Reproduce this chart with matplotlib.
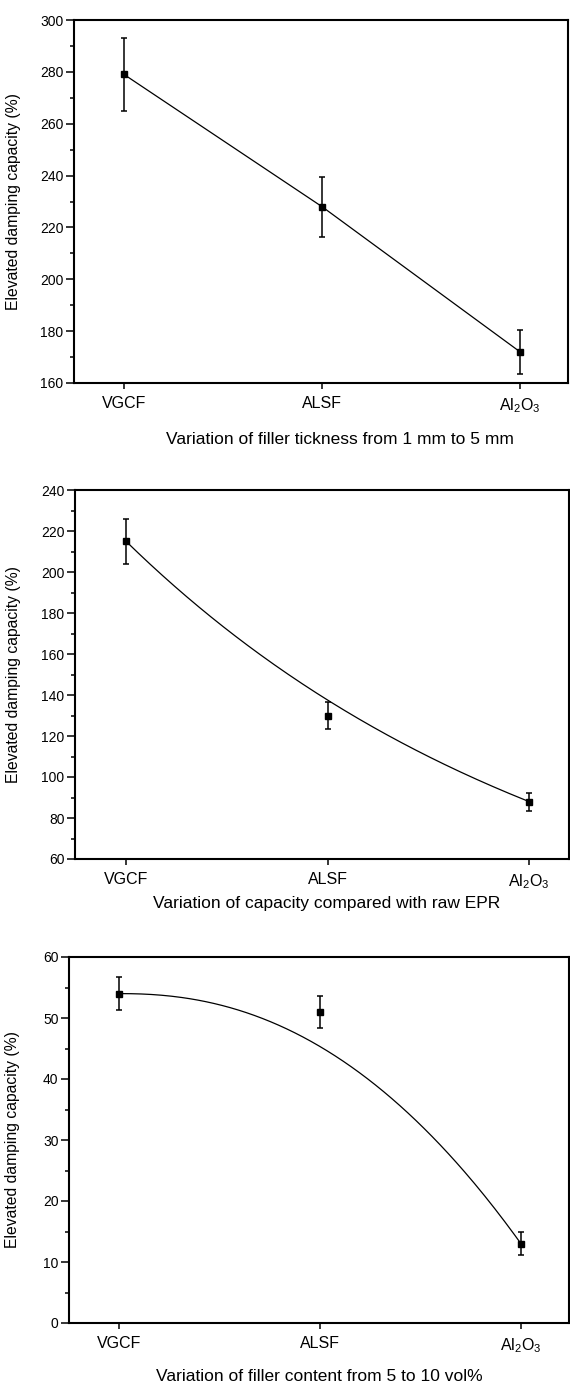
import numpy as np
import matplotlib
matplotlib.use('Agg')
import matplotlib.pyplot as plt
from matplotlib.ticker import MultipleLocator

plt.rcParams['font.family'] = ['Liberation Sans', 'DejaVu Sans']
plt.rcParams['mathtext.default'] = 'regular'

# data
fillers = ['VGCF', 'ALSF', 'Al$_2$O$_3$']

thick_val = [279, 228, 172]      # filler thickness 1 mm -> 5 mm
thick_err = [14, 11.5, 8.5]

raw_val = [215, 130, 88]         # compared with raw EPR
raw_err = [11, 6.5, 4.4]

content_val = [54, 51, 13]       # filler content 5 -> 10 vol%
content_err = [2.7, 2.6, 1.9]
content_fit_pow = 2.24           # exponent of the drawn trend curve

ylab = 'Elevated damping capacity (%)'

fig = plt.figure(figsize=(5.7, 13.86), dpi=100)

# axes rectangles in figure fraction (left, bottom, width, height)
rects = [
    [74/570, 1-383/1386, 494/570, 363/1386],
    [75/570, 1-859/1386, 494/570, 369/1386],
    [69/570, 1-1323/1386, 500/570, 366/1386],
]


def style_axis(ax, ylim, major, minor, xlim, xlab, xlab_pos, ylab_x):
    ax.set_xlim(xlim)
    ax.set_ylim(ylim)
    ax.yaxis.set_major_locator(MultipleLocator(major))
    ax.yaxis.set_minor_locator(MultipleLocator(minor))
    ax.set_xticks(range(len(fillers)))
    ax.set_xticklabels(fillers, fontsize=11.5)
    ax.tick_params(axis='y', which='major', direction='out', length=6, width=1.1, labelsize=10, pad=1.5)
    ax.tick_params(axis='y', which='minor', direction='out', length=3, width=1.1)
    ax.tick_params(axis='x', which='major', direction='out', length=4.5, width=1.1, pad=5)
    ax.tick_params(top=False, right=False)
    for sp in ax.spines.values():
        sp.set_linewidth(1.5)
    ax.set_xlabel(xlab, fontsize=12.5)
    ax.xaxis.set_label_coords(*xlab_pos)
    ax.set_ylabel(ylab, fontsize=11.3)
    ax.yaxis.set_label_coords(ylab_x, 0.5)


xs = np.arange(len(fillers))

# panel 1: points joined by straight lines
ax1 = fig.add_axes(rects[0])
ax1.errorbar(xs, thick_val, yerr=thick_err, fmt='s-', color='k', ms=5, lw=0.9,
             elinewidth=1.1, capsize=2.5, capthick=1.1)
style_axis(ax1, (160, 300), 20, 10, (-0.2525, 2.242),
           'Variation of filler tickness from 1 mm to 5 mm', (0.538, -0.135), -0.108)

# panel 2: exponential decay through the end points
ax2 = fig.add_axes(rects[1])
ax2.errorbar(xs, raw_val, yerr=raw_err, fmt='s', color='k', ms=5,
             elinewidth=1.1, capsize=2.5, capthick=1.1)
k = np.log(raw_val[0] / raw_val[-1]) / xs[-1]
xf = np.linspace(xs[0], xs[-1], 200)
ax2.plot(xf, raw_val[0] * np.exp(-k * xf), color='k', lw=0.9)
style_axis(ax2, (60, 240), 20, 10, (-0.253, 2.198),
           'Variation of capacity compared with raw EPR', (0.51, -0.1), -0.11)

# panel 3: power-law trend through the end points
ax3 = fig.add_axes(rects[2])
ax3.errorbar(xs, content_val, yerr=content_err, fmt='s', color='k', ms=5,
             elinewidth=1.1, capsize=2.5, capthick=1.1)
yf = content_val[0] - (content_val[0] - content_val[-1]) * (xf / xs[-1]) ** content_fit_pow
ax3.plot(xf, yf, color='k', lw=0.9)
style_axis(ax3, (0, 60), 10, 5, (-0.249, 2.239),
           'Variation of filler content from 5 to 10 vol%', (0.5, -0.125), -0.098)

fig.savefig('out.png', dpi=100)
